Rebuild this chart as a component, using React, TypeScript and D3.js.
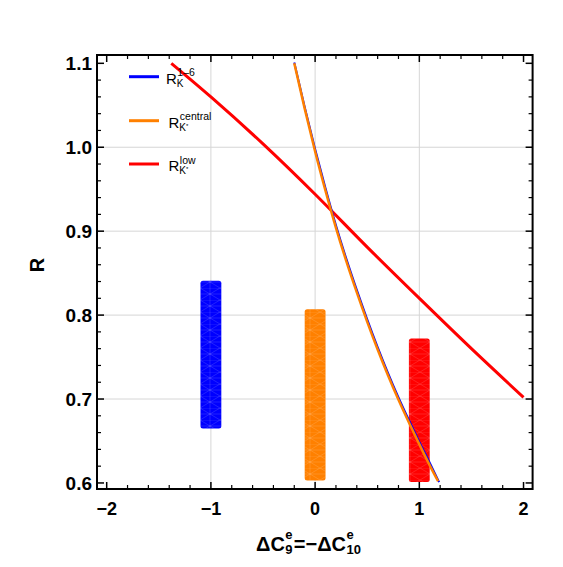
import React, { useEffect, useRef } from 'react';
import * as d3 from 'd3';

// curve R(ΔC9 = -ΔC10)
const centralX = [-0.2, -0.1, 0, 0.1, 0.2, 0.3, 0.4, 0.5, 0.6, 0.7, 0.8, 0.9, 1.0, 1.1, 1.18];
const centralY = [1.1, 1.046, 0.995, 0.948, 0.904, 0.864, 0.827, 0.792, 0.759, 0.728, 0.699, 0.672, 0.646, 0.621, 0.602];
const rk16X = [-0.2, -0.1, 0, 0.1, 0.2, 0.3, 0.4, 0.5, 0.6, 0.7, 0.8, 0.9, 1.0, 1.1, 1.19];
const rk16Y = [1.101, 1.048, 0.998, 0.951, 0.907, 0.867, 0.83, 0.795, 0.762, 0.731, 0.702, 0.675, 0.649, 0.624, 0.601];
const lowX = [-1.38, -1.0, -0.5, 0, 0.5, 1.0, 1.5, 2.0];
const lowY = [1.1, 1.06, 1.004, 0.944, 0.881, 0.82, 0.76, 0.702];

// measured bands
const bandX = [-1, 0, 1];
const bandLo = [0.665, 0.603, 0.601];
const bandHi = [0.841, 0.807, 0.772];
const bandColors = ['#0000ff', '#ff8000', '#ff0000'];

const xTicks = [-2, -1, 0, 1, 2];
const yTicks = [0.6, 0.7, 0.8, 0.9, 1.0, 1.1];
const xGrid = [-1, 0, 1];
const yGrid = [0.7, 0.8, 0.9, 1.0];

const legendItems = [
  { color: '#0000ff', sub: 'K', star: false, sup: '1\u20136' },
  { color: '#ff8000', sub: 'K', star: true, sup: 'central' },
  { color: '#ff0000', sub: 'K', star: true, sup: 'low' },
];

const FONT = '"Liberation Sans", Arial, sans-serif';

const Chart = () => {
  const svgRef = useRef<SVGSVGElement>(null);

  useEffect(() => {
    const svg = d3.select(svgRef.current);
    svg.selectAll('*').remove();

    const left = 97, right = 532.6, top = 55, bottom = 489;
    const x = d3.scaleLinear().domain([-2.093, 2.087]).range([left, right]);
    const y = d3.scaleLinear().domain([0.5928, 1.1099]).range([bottom, top]);

    svg.append('rect').attr('width', 563).attr('height', 567).attr('fill', 'white');

    // mesh pattern for the bands
    const defs = svg.append('defs');
    const pat = defs.append('pattern')
      .attr('id', 'mesh')
      .attr('patternUnits', 'userSpaceOnUse')
      .attr('width', 20).attr('height', 12);
    pat.append('path')
      .attr('d', 'M0,0H20M0,6H20M0,0L10,6L20,0M0,12L10,6L20,12M10,0V12')
      .attr('stroke', 'white')
      .attr('stroke-opacity', 0.18)
      .attr('stroke-width', 0.7)
      .attr('fill', 'none');

    // grid
    svg.append('g').selectAll('line').data(xGrid).enter().append('line')
      .attr('x1', d => x(d)).attr('x2', d => x(d))
      .attr('y1', top).attr('y2', bottom)
      .attr('stroke', '#d6d6d6').attr('stroke-width', 1);
    svg.append('g').selectAll('line').data(yGrid).enter().append('line')
      .attr('x1', left).attr('x2', right)
      .attr('y1', d => y(d)).attr('y2', d => y(d))
      .attr('stroke', '#d6d6d6').attr('stroke-width', 1);

    // bands
    bandX.forEach((bx, i) => {
      const g = svg.append('g');
      const bx0 = x(bx - 0.1), bx1 = x(bx + 0.1);
      g.append('rect')
        .attr('x', bx0).attr('y', y(bandHi[i]))
        .attr('width', bx1 - bx0).attr('height', y(bandLo[i]) - y(bandHi[i]))
        .attr('rx', 2.5)
        .attr('fill', bandColors[i]);
      g.append('rect')
        .attr('x', bx0).attr('y', y(bandHi[i]))
        .attr('width', bx1 - bx0).attr('height', y(bandLo[i]) - y(bandHi[i]))
        .attr('rx', 2.5)
        .attr('fill', 'url(#mesh)');
    });

    // curves
    const line = d3.line<[number, number]>()
      .x(d => x(d[0]))
      .y(d => y(d[1]))
      .curve(d3.curveMonotoneX);

    svg.append('path')
      .datum(lowX.map((v, i) => [v, lowY[i]] as [number, number]))
      .attr('fill', 'none').attr('stroke', '#ff0000').attr('stroke-width', 3)
      .attr('d', line);
    svg.append('path')
      .datum(rk16X.map((v, i) => [v, rk16Y[i]] as [number, number]))
      .attr('fill', 'none').attr('stroke', '#0000ff').attr('stroke-width', 2)
      .attr('d', line);
    svg.append('path')
      .datum(centralX.map((v, i) => [v, centralY[i]] as [number, number]))
      .attr('fill', 'none').attr('stroke', '#ff8000').attr('stroke-width', 2.5)
      .attr('d', line);

    // frame
    svg.append('rect')
      .attr('x', left).attr('y', top)
      .attr('width', right - left).attr('height', bottom - top)
      .attr('fill', 'none').attr('stroke', 'black').attr('stroke-width', 2);

    // ticks (inward, all four sides)
    const ticks = svg.append('g').attr('stroke', 'black');
    const xMinor = d3.range(-2, 2.001, 0.2).filter(v => Math.abs(v - Math.round(v)) > 0.01);
    const yMinor = d3.range(0.6, 1.1001, 0.02).filter(v => Math.abs(v * 10 - Math.round(v * 10)) > 0.01);
    xTicks.forEach(v => {
      ticks.append('line').attr('x1', x(v)).attr('x2', x(v)).attr('y1', bottom).attr('y2', bottom - 7).attr('stroke-width', 1.5);
      ticks.append('line').attr('x1', x(v)).attr('x2', x(v)).attr('y1', top).attr('y2', top + 7).attr('stroke-width', 1.5);
    });
    xMinor.forEach(v => {
      ticks.append('line').attr('x1', x(v)).attr('x2', x(v)).attr('y1', bottom).attr('y2', bottom - 4).attr('stroke-width', 1.2);
      ticks.append('line').attr('x1', x(v)).attr('x2', x(v)).attr('y1', top).attr('y2', top + 4).attr('stroke-width', 1.2);
    });
    yTicks.forEach(v => {
      ticks.append('line').attr('x1', left).attr('x2', left + 7).attr('y1', y(v)).attr('y2', y(v)).attr('stroke-width', 1.5);
      ticks.append('line').attr('x1', right).attr('x2', right - 7).attr('y1', y(v)).attr('y2', y(v)).attr('stroke-width', 1.5);
    });
    yMinor.forEach(v => {
      ticks.append('line').attr('x1', left).attr('x2', left + 4).attr('y1', y(v)).attr('y2', y(v)).attr('stroke-width', 1.2);
      ticks.append('line').attr('x1', right).attr('x2', right - 4).attr('y1', y(v)).attr('y2', y(v)).attr('stroke-width', 1.2);
    });

    // tick labels
    svg.append('g').selectAll('text').data(xTicks).enter().append('text')
      .attr('x', d => x(d)).attr('y', 514.5)
      .attr('text-anchor', 'middle')
      .style('font-family', FONT).style('font-size', '18px').style('font-weight', 'bold')
      .text(d => (d < 0 ? '\u2212' + Math.abs(d) : String(d)));
    svg.append('g').selectAll('text').data(yTicks).enter().append('text')
      .attr('x', 92).attr('y', d => y(d) + 6.8)
      .attr('text-anchor', 'end')
      .style('font-family', FONT).style('font-size', '19px').style('font-weight', 'bold')
      .text(d => d.toFixed(1));

    // y axis label
    svg.append('text')
      .attr('transform', 'translate(44,265) rotate(-90)')
      .attr('text-anchor', 'middle')
      .style('font-family', FONT).style('font-size', '20px').style('font-weight', 'bold')
      .text('R');

    // x axis label: ΔC9^e = −ΔC10^e with stacked sub/sup
    const xl = svg.append('g').style('font-family', FONT).style('font-weight', 'bold');
    const base = 551;
    const t1 = xl.append('text').attr('x', 256).attr('y', base).style('font-size', '20px').text('\u0394C');
    const w1 = (t1.node() as SVGTextElement).getComputedTextLength();
    xl.append('text').attr('x', 256 + w1 + 0.5).attr('y', base - 12).style('font-size', '13px').text('e');
    xl.append('text').attr('x', 256 + w1 + 0.5).attr('y', base + 3).style('font-size', '13px').text('9');
    const x2 = 256 + w1 + 9;
    const t2 = xl.append('text').attr('x', x2).attr('y', base).style('font-size', '20px').text('=\u2212\u0394C');
    const w2 = (t2.node() as SVGTextElement).getComputedTextLength();
    xl.append('text').attr('x', x2 + w2 + 0.5).attr('y', base - 12).style('font-size', '13px').text('e');
    xl.append('text').attr('x', x2 + w2 + 0.5).attr('y', base + 3).style('font-size', '13px').text('10');

    // legend
    const legend = svg.append('g').style('font-family', FONT);
    const legendY = [76.7, 120.7, 164];
    legendItems.forEach((item, i) => {
      const ly = legendY[i];
      legend.append('line')
        .attr('x1', 129).attr('x2', 159)
        .attr('y1', ly).attr('y2', ly)
        .attr('stroke', item.color).attr('stroke-width', 3);
      const rx = i === 0 ? 166 : 168.5;
      const r = legend.append('text').attr('x', rx).attr('y', ly + 7).style('font-size', '15px').text('R');
      const rw = (r.node() as SVGTextElement).getComputedTextLength();
      const sub = legend.append('text').attr('x', rx + rw).attr('y', ly + 10).style('font-size', '10px');
      sub.append('tspan').text(item.sub);
      if (item.star) sub.append('tspan').attr('dy', -3).style('font-size', '6px').text('*');
      legend.append('text').attr('x', rx + rw + 0.5).attr('y', ly - 0.5).style('font-size', '10.5px').text(item.sup);
    });
  }, []);

  return <svg ref={svgRef} width={563} height={567} style={{ position: 'absolute', left: 0, top: 0 }} />;
};

export default function App() {
  return <Chart />;
}
